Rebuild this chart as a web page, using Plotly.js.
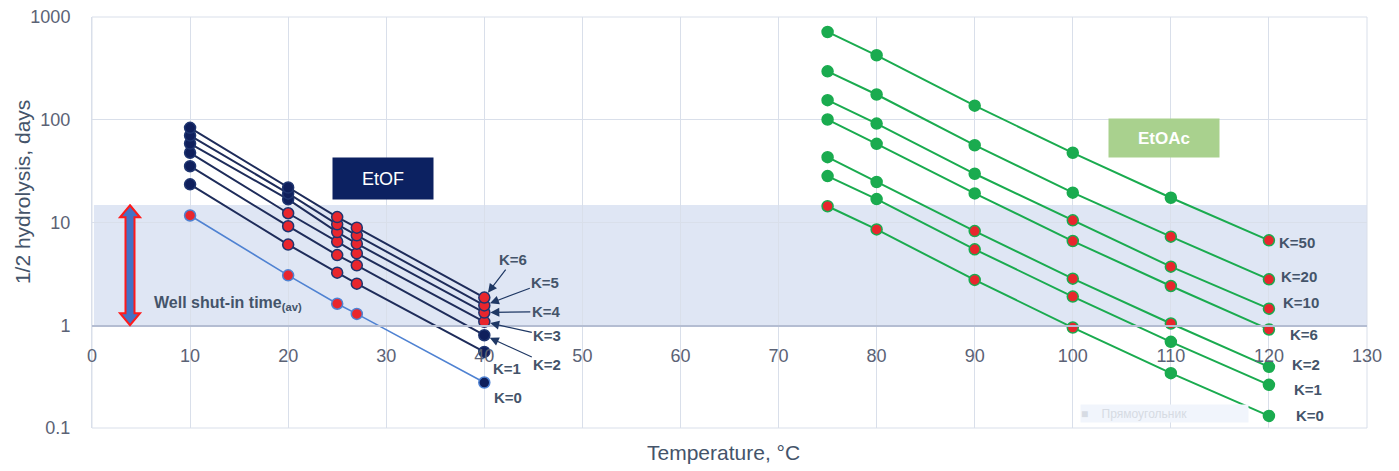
<!DOCTYPE html>
<html><head><meta charset="utf-8">
<script src="https://cdn.plot.ly/plotly-3.0.1.min.js"></script>
<style>html,body{margin:0;padding:0;background:#fff}#chart{width:1399px;height:471px}</style>
</head><body><div id="chart"></div>
<script>
// ---------- data ----------
const etofTemps = [10, 20, 25, 27, 40];
const etofK0 = [11.7, 3.06, 1.62, 1.29, 0.277];
const etofK1 = [23.5, 6.1, 3.25, 2.54, 0.55];
const etofK2 = [35.3, 9.2, 4.82, 3.83, 0.80];
const etofK3 = [47.7, 12.3, 6.5, 5.01, 1.08];
const etofK4 = [58.7, 16.8, 8.07, 6.22, 1.33];
const etofK5 = [70.2, 19.2, 9.6, 7.5, 1.56];
const etofK6 = [83.4, 21.9, 11.3, 8.9, 1.86];

const etoacTemps = [75, 80, 90, 100, 110, 120];
const etoacK0 = [14.4, 8.57, 2.76, 0.95, 0.342, 0.131];
const etoacK1 = [28.3, 16.9, 5.48, 1.90, 0.69, 0.263];
const etoacK2 = [43.2, 24.8, 8.25, 2.84, 1.04, 0.394];
const etoacK6 = [100.5, 58.3, 19.2, 6.6, 2.41, 0.91];
const etoacK10 = [155, 91.8, 29.8, 10.5, 3.72, 1.45];
const etoacK20 = [296, 176, 56.5, 19.5, 7.28, 2.80];
const etoacK50 = [715, 424, 137, 47.7, 17.4, 6.7];

const etofLabels = ["K=0", "K=1", "K=2", "K=3", "K=4", "K=5", "K=6"];
const etoacLabels = ["K=0", "K=1", "K=2", "K=6", "K=10", "K=20", "K=50"];

const shutInLow = 1;      // days
const shutInHigh = 14.8;  // days

const xTickVals = [0,10,20,30,40,50,60,70,80,90,100,110,120,130];
const yTickVals = [0.1, 1, 10, 100, 1000];
const yTickText = ["0.1", "1", "10", "100", "1000"];

// ---------- styling ----------
const FONT = "Liberation Sans, Arial, sans-serif";
const labelColor = "#44546a";
const tickColor = "#5b6275";
const gridColor = "#d9dfea";
const red = "#e8262d";
const navy = "#0f1f5c";
const navyLine = "#1e2c5a";
const lightBlue = "#4f82d2";
const green = "#1aab4f";

function inBand(v) { return v >= shutInLow * 0.9 && v <= shutInHigh; }

const etofData = [etofK0, etofK1, etofK2, etofK3, etofK4, etofK5, etofK6];
const etoacData = [etoacK0, etoacK1, etoacK2, etoacK6, etoacK10, etoacK20, etoacK50];

const traces = [];
etofData.forEach((ys, i) => {
  const isK0 = i === 0;
  traces.push({
    x: etofTemps, y: ys, type: "scatter", mode: "lines+markers", name: "EtOF " + etofLabels[i],
    line: { color: isK0 ? lightBlue : navyLine, width: isK0 ? 1.6 : 2 },
    marker: {
      size: 11,
      color: ys.map(v => inBand(v) ? red : navy),
      line: { color: isK0 ? lightBlue : "#1f3570", width: 1.5 }
    },
    showlegend: false, hoverinfo: "x+y+name"
  });
});
etoacData.forEach((ys, i) => {
  traces.push({
    x: etoacTemps, y: ys, type: "scatter", mode: "lines+markers", name: "EtOAc " + etoacLabels[i],
    line: { color: green, width: 2 },
    marker: {
      size: 11,
      color: ys.map(v => inBand(v) ? red : green),
      line: { color: green, width: 1.5 }
    },
    showlegend: false, hoverinfo: "x+y+name"
  });
});

// ---------- annotations ----------
const annotations = [];
const etofArrowOffsets = { 2: [63, 29], 3: [63, 14], 4: [62, -1], 5: [61, -23], 6: [29, -38] };
const etofTextShifts = { 0: [24, -15], 1: [23, -17] };
etofData.forEach((ys, i) => {
  const last = ys[ys.length - 1];
  const xLast = etofTemps[etofTemps.length - 1];
  const base = {
    x: xLast, y: Math.log10(last), xref: "x", yref: "y", text: "<b>" + etofLabels[i] + "</b>",
    xanchor: "center", yanchor: "middle",
    font: { family: FONT, size: 15, color: labelColor }
  };
  if (etofArrowOffsets[i]) {
    annotations.push(Object.assign(base, {
      showarrow: true, ax: etofArrowOffsets[i][0], ay: etofArrowOffsets[i][1],
      arrowhead: 2, arrowsize: 1.5, arrowwidth: 1.2, arrowcolor: "#1f3864", standoff: 6
    }));
  } else {
    annotations.push(Object.assign(base, {
      showarrow: false, xshift: etofTextShifts[i][0], yshift: etofTextShifts[i][1]
    }));
  }
});
const etoacTextShifts = [[41, 0], [39, -5], [37, 2], [35, -5], [32, 6], [30, 3], [28, -2]];
etoacData.forEach((ys, i) => {
  const last = ys[ys.length - 1];
  annotations.push({
    x: etoacTemps[etoacTemps.length - 1], y: Math.log10(last), xref: "x", yref: "y",
    xanchor: "center", yanchor: "middle",
    text: "<b>" + etoacLabels[i] + "</b>", showarrow: false,
    xshift: etoacTextShifts[i][0], yshift: etoacTextShifts[i][1],
    font: { family: FONT, size: 15, color: labelColor }
  });
});
// boxes
annotations.push({
  xref: "paper", yref: "paper", x: 0.2282, y: 0.607, xanchor: "center", yanchor: "middle",
  text: "EtOF", showarrow: false,
  bgcolor: "#0c2161", width: 100, height: 41, borderpad: 0,
  font: { family: FONT, size: 18, color: "#ffffff" }
});
annotations.push({
  xref: "paper", yref: "paper", x: 0.8408, y: 0.7056, xanchor: "center", yanchor: "middle",
  text: "<b>EtOAc</b>", showarrow: false,
  bgcolor: "#a9d18e", width: 110, height: 38, borderpad: 0,
  font: { family: FONT, size: 17, color: "#ffffff" }
});
annotations.push({
  xref: "paper", yref: "paper", x: 0.047, y: 0.304, xanchor: "left", yanchor: "middle", showarrow: false,
  text: "<b>Well shut-in time<sub>(av)</sub></b>",
  font: { family: FONT, size: 16, color: labelColor }
});
annotations.push({
  xref: "paper", yref: "paper", x: 0.841, y: 0.0353, xanchor: "center", yanchor: "middle",
  showarrow: false, align: "left",
  text: "■&nbsp;&nbsp;&nbsp;&nbsp;Прямоугольник", bgcolor: "#f1f5fc", width: 167, height: 17, borderpad: 0,
  font: { family: FONT, size: 12, color: "#d6dbe3" }
});
// axis titles
annotations.push({
  xref: "paper", yref: "paper", x: -0.0549, y: 0.574, xanchor: "center", yanchor: "middle",
  textangle: -90, showarrow: false,
  text: "1/2 hydrolysis, days", font: { family: FONT, size: 21, color: labelColor }
});
annotations.push({
  xref: "paper", yref: "paper", x: 0.495, y: -0.0608, xanchor: "center", yanchor: "middle",
  showarrow: false,
  text: "Temperature, °C", font: { family: FONT, size: 21, color: labelColor }
});

// ---------- shapes ----------
const shapes = [
  { type: "rect", layer: "below", xref: "paper", yref: "y", x0: 0.0015, x1: 1, y0: shutInLow, y1: shutInHigh,
    fillcolor: "#dfe6f4", line: { width: 0 } },
  { type: "rect", layer: "below", xref: "paper", yref: "paper", x0: 0, x1: 1, y0: 0, y1: 1,
    fillcolor: "rgba(0,0,0,0)", line: { color: gridColor, width: 1 } },
  { type: "path", layer: "above", xref: "paper", yref: "paper",
    xsizemode: "pixel", ysizemode: "pixel", xanchor: 0.0298, yanchor: 0.25,
    path: "M 0 120 L 10 108 L 4.5 108 L 4.5 12 L 10 12 L 0 0 L -10 12 L -4.5 12 L -4.5 108 L -10 108 Z",
    fillcolor: "#4472c4", line: { color: "#ff1a1a", width: 2 } }
];

const layout = {
  width: 1399, height: 471,
  margin: { l: 92, r: 32, t: 17, b: 43 },
  paper_bgcolor: "#ffffff", plot_bgcolor: "#ffffff",
  font: { family: FONT },
  showlegend: false,
  xaxis: {
    range: [0, 130], tickvals: xTickVals, showgrid: true, gridcolor: gridColor, gridwidth: 1,
    zeroline: false, showline: true, linecolor: "#b4bdd2", linewidth: 1.5,
    anchor: "free", position: 0.25, ticks: "", ticklabelstandoff: 14,
    tickfont: { family: FONT, size: 18, color: tickColor }
  },
  yaxis: {
    type: "log", range: [-1, 3], tickvals: yTickVals, ticktext: yTickText,
    showgrid: true, gridcolor: gridColor, gridwidth: 1, zeroline: false,
    showline: true, linecolor: gridColor, linewidth: 1, ticks: "", ticklabelstandoff: 17,
    tickfont: { family: FONT, size: 18, color: tickColor }
  },
  shapes: shapes,
  annotations: annotations
};

Plotly.newPlot("chart", traces, layout, { displayModeBar: false, staticPlot: true });
</script>
</body></html>
